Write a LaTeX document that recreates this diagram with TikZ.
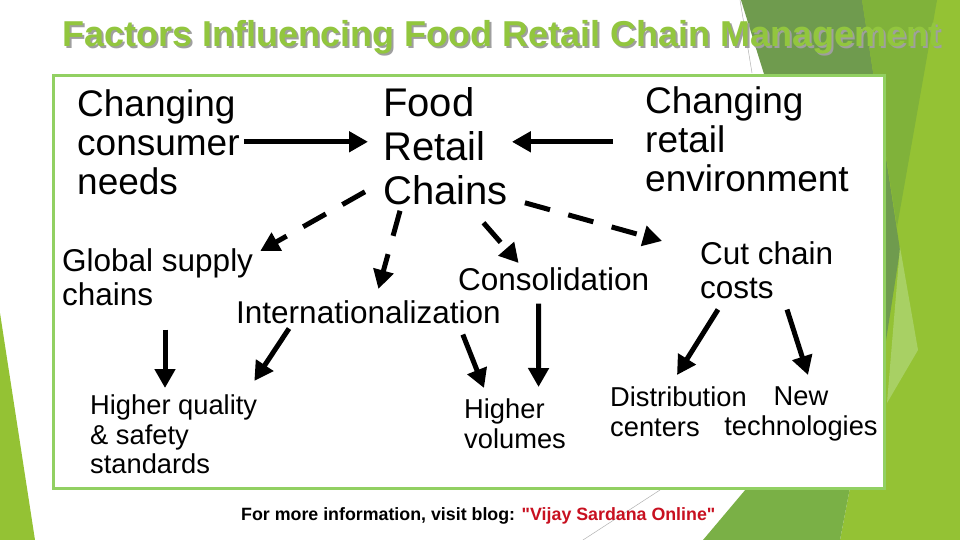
\documentclass[tikz,border=0pt]{standalone}
\usepackage{fontspec}
\setmainfont{Liberation Sans}[Ligatures=TeXOff]
\usepackage{xcolor}
\usepackage{tikz}
\usetikzlibrary{arrows.meta,calc}

\definecolor{boxgreen}{RGB}{146,208,98}
\definecolor{titlegreen}{RGB}{146,198,62}
\definecolor{darkleaf}{RGB}{111,155,78}
\definecolor{midleaf}{RGB}{128,178,58}
\definecolor{lightleaf}{RGB}{148,194,52}
\definecolor{botleaf}{RGB}{122,176,70}
\definecolor{paleleaf}{RGB}{168,208,100}
\definecolor{blogred}{RGB}{200,16,32}

% green text with a grey drop shadow
\newcommand{\shadowtext}[1]{\rlap{\hspace{2pt}\raisebox{-2pt}{\textcolor{gray!75}{#1}}}\textcolor{titlegreen}{#1}}

\begin{document}
\begin{tikzpicture}[x=1pt,y=-1pt,
  lbl/.style={inner sep=0pt,anchor=north west,align=left},
  topfont/.style={font=\fontsize{37}{39}\selectfont},
  hubfont/.style={font=\fontsize{40}{44}\selectfont},
  midfont/.style={font=\fontsize{31.5}{34}\selectfont},
  lowfont/.style={font=\fontsize{27.3}{29.5}\selectfont},
  arr/.style={line width=5pt,-{Triangle[length=19pt,width=20pt]}},
  darr/.style={arr,dash pattern=on 26pt off 19pt}]
  \useasboundingbox (0,0) rectangle (960,540);
  \fill[white] (0,0) rectangle (960,540);

  % background leaves
  \fill[lightleaf] (860,0) -- (960,0) -- (960,540) -- (840,540) -- (880,330) -- (884,300) -- cycle;
  \fill[darkleaf] (741,0) -- (862,0) -- (900,250) -- (885,347) -- (800,190) -- cycle;
  \fill[midleaf] (862,0) -- (937,0) -- (897,227) -- cycle;
  \fill[paleleaf] (900,247) -- (918,350) -- (887,403) -- cycle;
  \fill[botleaf] (703,540) -- (880,330) -- (840,540) -- cycle;
  \fill[lightleaf] (0,313) -- (35,540) -- (0,540) -- cycle;
  \draw[gray!60,line width=0.5pt] (740,0) -- (752,73);
  \draw[gray!60,line width=0.5pt] (660,490) -- (583,540);

  % title
  \node[anchor=base west,inner sep=0pt,font=\bfseries\fontsize{36}{40}\selectfont] (title) at (62,47) {\shadowtext{Factors Influencing Food Retail Chain Management}};

  \draw[boxgreen,fill=white,line width=3pt] (53.5,75.5) rectangle (884,488);

  \node[lbl,topfont] (consumer) at (77,89) {Changing\\consumer\\needs};
  \node[lbl,hubfont] (food) at (383,87) {Food\\Retail\\Chains};
  \node[lbl,topfont] (env) at (645,86) {Changing\\retail\\environment};
  \node[lbl,midfont] (gsc) at (62,248) {Global supply\\chains};
  \node[lbl,midfont] (intern) at (236,300) {Internationalization};
  \node[lbl,midfont] (consol) at (458,267) {Consolidation};
  \node[lbl,midfont] (cut) at (700,241) {Cut chain\\costs};
  \node[lbl,lowfont] (hq) at (90,395) {Higher quality\\\& safety\\standards};
  \node[lbl,lowfont] (hv) at (464,399) {Higher\\volumes};
  \node[lbl,lowfont] (dist) at (610,387) {Distribution\\centers};
  \node[lbl,lowfont,anchor=north,align=center] (newt) at (801,387) {New\\technologies};

  \draw[arr] ($(consumer.east)+(4,0)$) -- ($(consumer.east -| food.west)+(-15,0)$);
  \draw[arr] ($(env.west)+(-32,3)$) -- ($(env.west -| food.east)+(4,3)$);
  \draw[darr] ($(food.south west)+(-18,-13)$) -- ($(gsc.north east)+(7,3)$);
  \draw[darr] ($(food.south west)+(17,6)$) -- ($(intern.north)+(10,-11)$);
  \draw[darr] ($(food.south)+(38,18)$) -- ($(consol.north)+(-35,-4)$);
  \draw[darr] ($(food.south east)+(17,-2)$) -- ($(cut.north west)+(-38,0)$);
  \draw[arr] ($(gsc.south west)+(103,24)$) -- ($(hq.north west)+(75,-7)$);
  \draw[arr] ($(intern.south west)+(53,5)$) -- ($(hq.north east)+(-3,-14)$);
  \draw[arr] ($(intern.south east)+(-38,11)$) -- ($(hv.north west)+(20,-11)$);
  \draw[arr] ($(consol.south)+(-15,13)$) -- ($(hv.north east)+(-27.5,-12)$);
  \draw[arr] ($(cut.south west)+(18,11)$) -- ($(dist.north west)+(67,-12)$);
  \draw[arr] ($(cut.south west)+(87,11)$) -- ($(newt.north)+(7,-12)$);

  \node[anchor=base west,inner sep=0pt,font=\bfseries\fontsize{17.8}{20}\selectfont] (blog) at (241,520) {For more information, visit blog: \textcolor{blogred}{"Vijay Sardana Online"}};
\end{tikzpicture}
\end{document}
